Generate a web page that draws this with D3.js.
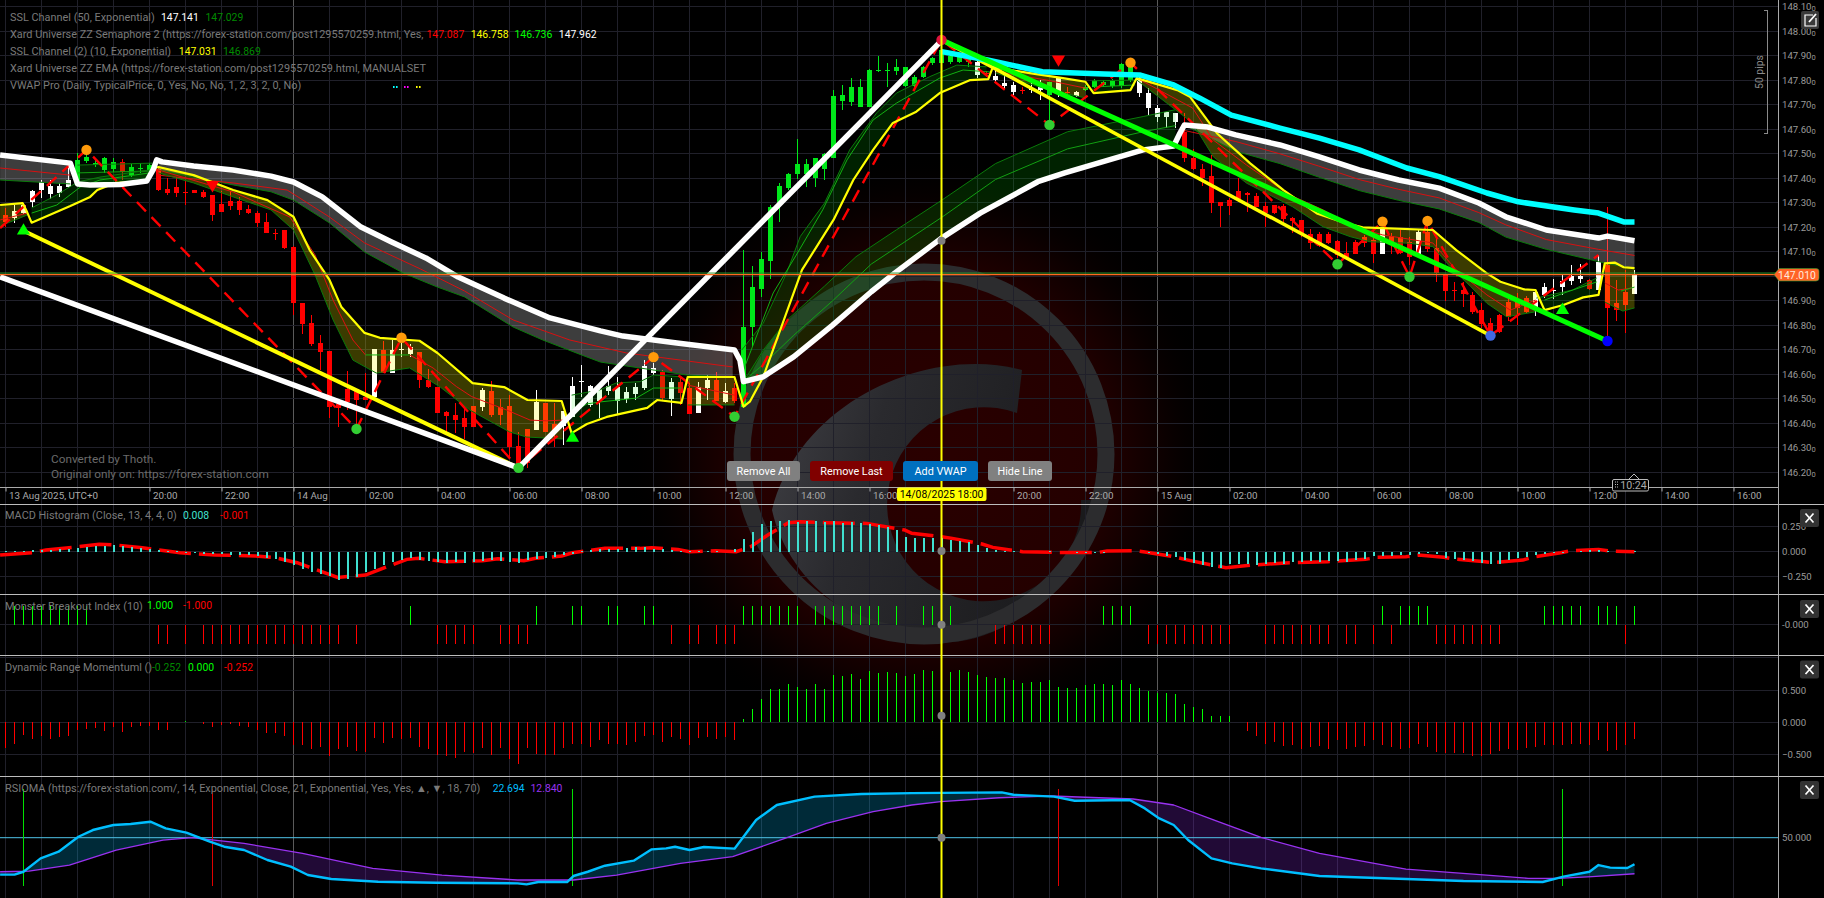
<!DOCTYPE html>
<html><head><meta charset="utf-8">
<script src="https://cdn.jsdelivr.net/npm/d3@7"></script>
<style>html,body{margin:0;padding:0;background:#000;overflow:hidden}svg{display:block}text{font-family:Roboto,"Liberation Sans",sans-serif}</style>
</head><body><svg id="c" width="1824" height="898"></svg>
<script>
// ---------- DATA ----------
const barTickIndex=[0,16,24,32,40,48,56,64,72,80,88,96,104,112,120,128,136,144,152,160,168,176,184,192];
const barTickLabels=["13 Aug 2025, UTC+0","20:00","22:00","14 Aug","02:00","04:00","06:00","08:00","10:00","12:00","14:00","16:00","18:00","20:00","22:00","15 Aug","02:00","04:00","06:00","08:00","10:00","12:00","14:00","16:00"];
const priceTicks=[146.2,146.3,146.4,146.5,146.6,146.7,146.8,146.9,147.0,147.1,147.2,147.3,147.4,147.5,147.6,147.7,147.8,147.9,148.0,148.1];
// open, high, low, close of the 15-minute candles
const ohlc=[
[147.25,147.277,147.20,147.223],[147.236,147.291,147.216,147.268],[147.259,147.30,147.254,147.291],[147.304,147.352,147.284,147.349],[147.352,147.393,147.318,147.386],
[147.334,147.395,147.314,147.368],[147.341,147.382,147.325,147.368],[147.366,147.447,147.359,147.393],[147.386,147.502,147.379,147.474],[147.472,147.499,147.463,147.488],
[147.456,147.474,147.447,147.463],[147.434,147.488,147.42,147.481],[147.436,147.481,147.427,147.468],[147.468,147.477,147.393,147.427],[147.413,147.458,147.406,147.447],
[147.44,147.463,147.42,147.443],[147.434,147.463,147.42,147.454],[147.436,147.444,147.349,147.352],[147.356,147.4,147.331,147.338],[147.366,147.406,147.322,147.341],
[147.344,147.39,147.293,147.342],[147.352,147.352,147.338,147.338],[147.345,147.352,147.318,147.325],[147.331,147.331,147.227,147.25],[147.295,147.35,147.262,147.262],
[147.308,147.35,147.27,147.288],[147.308,147.322,147.25,147.27],[147.274,147.29,147.254,147.258],[147.257,147.268,147.2,147.217],[147.221,147.26,147.175,147.178],
[147.175,147.195,147.148,147.173],[147.189,147.191,147.11,147.114],[147.121,147.123,146.842,146.889],[146.889,146.892,146.764,146.805],[146.809,146.842,146.717,146.723],
[146.726,146.759,146.617,146.691],[146.695,146.696,146.42,146.465],[146.477,146.48,146.386,146.464],[146.542,146.613,146.454,146.488],[146.542,146.542,146.393,146.495],
[146.508,146.606,146.495,146.495],[146.508,146.702,146.508,146.702],[146.699,146.736,146.604,146.604],[146.604,146.74,146.604,146.699],[146.699,146.733,146.672,146.702],
[146.683,146.725,146.67,146.71],[146.69,146.69,146.543,146.577],[146.577,146.621,146.543,146.547],[146.547,146.55,146.441,146.441],[146.448,146.452,146.362,146.43],
[146.434,146.482,146.359,146.414],[146.423,146.461,146.335,146.384],[146.471,146.471,146.384,146.384],[146.466,146.543,146.452,146.534],[146.532,146.573,146.427,146.434],
[146.466,146.498,146.393,146.434],[146.471,146.516,146.257,146.305],[146.308,146.366,146.223,146.23],[146.378,146.378,146.217,146.237],[146.373,146.534,146.373,146.486],
[146.483,146.483,146.364,146.364],[146.396,146.482,146.305,146.36],[146.387,146.452,146.312,146.452],[146.427,146.591,146.427,146.553],[146.571,146.638,146.506,146.574],
[146.475,146.557,146.465,146.553],[146.489,146.55,146.423,146.539],[146.53,146.634,146.516,146.554],[146.491,146.591,146.434,146.55],[146.498,146.55,146.482,146.529],
[146.52,146.563,146.495,146.55],[146.543,146.659,146.536,146.634],[146.604,146.645,146.598,146.627],[146.611,146.618,146.495,146.502],[146.5,146.584,146.43,146.57],
[146.57,146.591,146.475,146.523],[146.543,146.563,146.437,146.437],[146.444,146.57,146.444,146.55],[146.543,146.598,146.495,146.577],[146.577,146.611,146.489,146.489],
[146.485,146.563,146.482,146.53],[146.543,146.563,146.482,146.489],[146.468,147.107,146.461,146.794],[146.794,147.042,146.712,146.957],[146.947,147.1,146.917,147.072],
[147.062,147.291,146.991,147.284],[147.298,147.382,147.223,147.368],[147.361,147.423,147.352,147.417],[147.416,147.559,147.397,147.457],[147.417,147.477,147.366,147.458],
[147.402,147.481,147.363,147.481],[147.44,147.502,147.393,147.50],[147.481,147.76,147.481,147.736],[147.715,147.78,147.678,147.742],[147.712,147.808,147.695,147.771],
[147.689,147.804,147.689,147.771],[147.689,147.845,147.689,147.842],[147.84,147.899,147.835,147.842],[147.84,147.872,147.771,147.842],[147.84,147.885,147.821,147.853],
[147.776,147.855,147.774,147.853],[147.776,147.821,147.774,147.815],[147.815,147.86,147.81,147.855],[147.869,147.895,147.862,147.889],[147.869,147.96,147.86,147.923],
[147.873,147.905,147.865,147.899],[147.873,147.91,147.87,147.899],[147.873,147.896,147.853,147.885],[147.821,147.88,147.81,147.873],[147.829,147.84,147.812,147.826],
[147.801,147.842,147.794,147.817],[147.776,147.821,147.763,147.79],[147.753,147.794,147.74,147.78],[147.76,147.774,147.746,147.758],[147.76,147.787,147.749,147.763],
[147.76,147.801,147.719,147.774],[147.74,147.794,147.638,147.794],[147.746,147.815,147.733,147.808],[147.754,147.774,147.737,147.751],[147.737,147.755,147.73,147.751],
[147.76,147.78,147.755,147.774],[147.774,147.805,147.768,147.798],[147.78,147.80,147.775,147.794],[147.778,147.805,147.77,147.798],[147.778,147.87,147.77,147.866],
[147.801,147.88,147.795,147.858],[147.747,147.82,147.73,147.804],[147.685,147.767,147.658,147.747],[147.651,147.699,147.631,147.685],[147.651,147.669,147.604,147.669],
[147.628,147.667,147.604,147.665],[147.59,147.665,147.467,147.481],[147.482,147.518,147.433,147.438],[147.44,147.458,147.368,147.40],[147.409,147.495,147.259,147.30],
[147.303,147.303,147.202,147.288],[147.311,147.318,147.25,147.288],[147.348,147.40,147.304,147.315],[147.338,147.345,147.263,147.33],[147.327,147.341,147.281,147.284],
[147.287,147.304,147.202,147.26],[147.291,147.291,147.254,147.257],[147.287,147.297,147.223,147.233],[147.236,147.243,147.178,147.226],[147.229,147.229,147.161,147.175],
[147.171,147.195,147.11,147.137],[147.172,147.18,147.12,147.123],[147.172,147.18,147.13,147.134],[147.144,147.15,147.073,147.087],[147.096,147.141,147.073,147.08],
[147.138,147.148,147.09,147.093],[147.161,147.17,147.12,147.134],[147.148,147.2,147.053,147.093],[147.093,147.2,147.093,147.2],[147.164,147.175,147.093,147.137],
[147.161,147.19,147.09,147.096],[147.141,147.161,147.046,147.08],[147.093,147.19,147.09,147.182],[147.182,147.216,147.1,147.11],[147.114,147.155,146.978,147.012],
[147.008,147.008,146.9,146.94],[146.944,146.978,146.9,146.941],[146.946,146.978,146.876,146.926],[146.923,146.937,146.846,146.853],[146.862,146.889,146.791,146.805],
[146.808,146.828,146.76,146.778],[146.842,146.848,146.77,146.774],[146.896,146.91,146.819,146.835],[146.907,146.93,146.80,146.869],[146.91,146.92,146.85,146.855],
[146.869,146.944,146.838,146.937],[146.923,146.974,146.91,146.955],[146.943,146.991,146.906,146.945],[146.957,147.005,146.923,146.982],[146.98,147.046,146.964,147.0],
[146.987,147.05,146.971,147.0],[146.984,146.99,146.945,146.95],[146.946,147.087,146.944,147.059],[147.046,147.281,146.753,146.869],[146.889,146.984,146.819,146.862],
[146.937,147.025,146.77,146.882],[146.927,147.025,146.927,147.005]];
const limeBars=[8,9,10,11,12,14,15,16,82,83,84,85,86,87,88,89,90,91,92,93,94,95,96,97,98,99,100,101,102,103,104,105,106,107,116,120,121,122,123,124,125];
const currentPrice=147.01;

// slow SSL channel: [bar, price] knots
const slowLine=[[-.6,147.495],[7.2,147.462],[8,147.377],[9.4,147.373],[12.7,147.375],[15.7,147.389],[16.4,147.434],[16.8,147.475],[17.4,147.467],[20.9,147.45],[25.3,147.434],[29.5,147.409],[32,147.385],[35.2,147.324],[39.5,147.201],[42.9,147.14],[46.7,147.075],[50.3,146.997],[55.4,146.911],[60.5,146.83],[66.1,146.777],[68.6,146.756],[74.6,146.728],[81,146.699],[81.6,146.658],[82,146.57],[84.2,146.59],[87.6,146.672],[91.9,146.801],[96.2,146.937],[98.8,147.013],[104,147.156],[108.3,147.258],[114.7,147.386],[117.7,147.422],[126.4,147.516],[129.8,147.532],[130.5,147.585],[131,147.618],[133.6,147.609],[136.7,147.577],[141.6,147.536],[145.9,147.488],[150.4,147.434],[154.8,147.393],[159.3,147.36],[163.7,147.299],[166.7,147.243],[171.2,147.189],[177,147.156],[178,147.164],[181,147.145]];
const slowEdgeA=[[-.6,147.393],[7.2,147.377]];
const slowEdgeB=[[8,147.454],[16.3,147.462]];
const slowEdgeC=[[17,147.434],[20.9,147.405],[25.3,147.373],[29.5,147.345],[32,147.311],[36,147.218],[39.9,147.099],[44.2,147.013],[48,146.956],[51,146.916],[56.4,146.793],[59.7,146.74],[64,146.679],[66.1,146.65],[75.7,146.597],[80.8,146.589]];
const slowEdgeD=[[82,146.57],[84.2,146.699],[86.8,146.82],[91,146.96],[94.5,147.08],[99,147.19],[104,147.31],[110,147.46],[118,147.59],[126.4,147.652],[130,147.68]];
const slowEdgeE=[[131,147.618],[136.7,147.51],[141.6,147.46],[145.9,147.405],[150.4,147.35],[154.8,147.31],[159.3,147.275],[163.7,147.22],[166.7,147.16],[171.2,147.11],[177,147.06],[181,147.03]];
const slowMidA=[[-.6,147.442],[7.2,147.413]];
const slowMidB=[[8,147.422],[16.3,147.43]];
const slowMidC=[[17,147.413],[20.9,147.397],[25.3,147.381],[31.3,147.352],[36,147.242],[39.9,147.136],[46.1,147.03],[51,146.94],[56.4,146.822],[62.7,146.74],[69,146.687],[75,146.658],[80.8,146.63]];
const slowMidD=[[82,146.572],[84.2,146.64],[87.6,146.76],[91.9,146.9],[96.2,147.05],[104,147.24],[110,147.395],[118,147.52],[126.4,147.59],[130,147.615]];
const slowMidE=[[131,147.595],[136.7,147.55],[141.6,147.5],[145.9,147.45],[150.4,147.395],[154.8,147.355],[159.3,147.32],[163.7,147.26],[166.7,147.21],[171.2,147.15],[177,147.11],[181,147.085]];

// fast SSL channel
const fastLine=[[-.6,147.291],[1.9,147.299],[2.4,147.262],[2.9,147.219],[7.2,147.287],[9.4,147.324],[10.2,147.352],[12.2,147.381],[15.7,147.386],[16.6,147.442],[17,147.446],[20.9,147.413],[25.3,147.352],[29.1,147.311],[32,147.243],[33.8,147.107],[36,146.985],[37.3,146.876],[39.9,146.769],[41.6,146.749],[46,146.737],[48,146.687],[51.9,146.564],[55.4,146.548],[58,146.495],[61.8,146.491],[62.9,146.36],[64.6,146.397],[66.8,146.426],[71.3,146.463],[72.4,146.495],[75.1,146.483],[75.8,146.589],[81,146.589],[82,146.468],[82.7,146.488],[84.2,146.59],[88.5,147.026],[92,147.23],[94.2,147.393],[96.4,147.516],[98.6,147.626],[101.2,147.672],[103.8,147.748],[107.2,147.801],[109.2,147.805],[109.7,147.854],[113.8,147.829],[117.5,147.809],[120,147.794],[120.9,147.748],[125,147.76],[125.7,147.809],[130.2,147.76],[131.6,147.733],[134.6,147.584],[138.3,147.461],[142,147.352],[145.7,147.257],[149,147.216],[150.8,147.2],[158.6,147.189],[161.2,147.107],[164.6,147.012],[166.1,146.978],[168.7,146.947],[170,146.944],[171,146.862],[173.1,146.883],[175.3,146.914],[177,146.924],[177.7,147.053],[178.8,147.056],[179.8,147.037],[181,147.033]];
const fastEdges=[
 [[-.6,147.205],[2.4,147.25]],
 [[2.9,147.279],[5.7,147.332],[8,147.385],[10.5,147.405],[16,147.434]],
 [[17,147.422],[20.9,147.381],[25.3,147.324],[29.5,147.271],[32,147.189],[32.7,147.136],[34.4,147.005],[36.4,146.822],[38.6,146.658],[41.2,146.605],[44.9,146.626],[48.3,146.548],[51.6,146.454],[56,146.365],[57.9,146.344],[61.9,146.336]],
 [[62.9,146.515],[66,146.536],[67.9,146.565],[70.5,146.57],[72,146.597],[75.1,146.59]],
 [[75.8,146.475],[81,146.475]],
 [[81.8,146.699],[84.2,146.809],[86.8,147.014],[88.3,147.162],[91,147.299],[93.8,147.516],[96.8,147.667],[99,147.748],[102.7,147.815],[105.7,147.862],[109,147.855]],
 [[110,147.83],[116,147.76],[120,147.728]],
 [[120.7,147.798],[125.5,147.801]],
 [[125.7,147.801],[131.9,147.626],[134.2,147.488],[137.9,147.38],[140.1,147.339],[143,147.284],[146.4,147.202],[149.4,147.162],[151.6,147.141],[156,147.135],[158.6,147.121],[160.5,147.039],[162.8,146.958],[164.6,146.89],[166.8,146.835],[170,146.855]],
 [[170.1,146.911],[174.1,146.944],[176.8,146.993]],
 [[177.7,146.895],[179.7,146.858],[181,146.871]]];
const fastBandKinds=["down","up","down","up","down","up","down","up","down","up","down"];
const fastMidsRed=[
 [[-.6,147.23],[2.4,147.258]],
 [[17,147.434],[25.3,147.344],[31.6,147.242],[34.4,147.087],[36.4,146.903],[38.6,146.74],[40,146.679]],
 [[44.9,146.679],[47.5,146.626],[50.1,146.55],[51.8,146.509],[55.7,146.454],[58.3,146.413],[60.1,146.41],[61.9,146.413]],
 [[75.8,146.556],[81,146.515]],
 [[110.1,147.835],[115.7,147.801],[120.1,147.767]],
 [[125.7,147.809],[131.9,147.687],[134.2,147.556],[137.9,147.454],[142.7,147.332],[146.4,147.271],[149.4,147.209],[153,147.169],[158.6,147.136],[161.2,147.026],[164.6,146.924],[167.2,146.862],[170,146.903]],
 [[177.7,146.973],[179.2,146.944],[180.7,146.952]]];
const fastMidsGreen=[
 [[2.9,147.258],[5.7,147.291],[8.3,147.364],[10.5,147.393],[16,147.422]],
 [[40,146.679],[44.9,146.679]],
 [[62.9,146.442],[64.6,146.479],[66,146.487],[70.1,146.503],[72,146.544],[75.1,146.544]],
 [[82,146.618],[85.3,146.932],[88,147.095],[90.8,147.271],[93.5,147.475],[96.4,147.638],[99,147.707],[103.8,147.809],[106.4,147.842],[109.4,147.834]],
 [[121,147.773],[125.5,147.781]],
 [[171,146.903],[173.5,146.936],[176.8,146.977]],
 [[179.5,146.94],[181,146.956]]];
const vwapLine=[[104,147.917],[109.1,147.883],[115.2,147.835],[122.1,147.826],[126,147.822],[129.8,147.781],[132.7,147.727],[136.2,147.658],[141.6,147.605],[146,147.564],[150.4,147.516],[155.7,147.442],[159.3,147.407],[164.6,147.34],[168.1,147.304],[174.3,147.271],[177,147.258],[179.8,147.222],[181,147.222]];

// zigzag and swing lines
const zigzag=[[-.6,147.197],[9,147.516],[39,146.377],[44,146.749],[57,146.218],[72,146.67],[81,146.427],[104,147.965],[116,147.618],[125,147.872],[148,147.049],[153,147.223],[156,146.998],[158,147.226],[165,146.758],[177,147.087]];
const whiteSwing=[[-.6,146.998],[57,146.218],[104,147.962]];
const yellowSwingA=[[2,147.186],[57,146.218]];
const yellowSwingB=[[104,147.965],[165,146.758]];
const limeSwing=[[104,147.965],[178,146.736]];
const orangeDots=[[9,147.516],[44,146.749],[72,146.67],[125,147.872],[153,147.223],[158,147.226]];
const greenDots=[[39,146.377],[57,146.218],[81,146.427],[116,147.618],[148,147.049],[156,146.998]];
const crimsonDots=[[104,147.965]];
const royalDots=[[165,146.758]];
const blueDots=[[178,146.736]];
const upTriangles=[[2,147.186],[63,146.34],[173,146.862]];
const downTriangles=[[23,147.373],[117,147.886]];
const crosshairBar=104;

// MACD histogram
const macdHist=[.005,.01,.01,.015,.02,.015,.025,.03,.035,.05,
.06,.055,.065,.06,.045,.04,.03,.02,.01,.005,
-.01,-.015,-.02,-.02,-.025,-.03,-.03,-.03,-.04,-.06,
-.07,-.1,-.13,-.17,-.2,-.22,-.24,-.28,-.27,-.25,
-.2,-.17,-.13,-.1,-.08,-.06,-.08,-.09,-.1,-.11,
-.1,-.11,-.1,-.09,-.08,-.09,-.1,-.11,-.08,-.07,
-.06,-.05,-.03,-.02,.01,.02,.025,.03,.03,.04,
.045,.05,.03,.025,.015,.01,.005,.005,.01,.005,
0,.03,.13,.2,.27,.3,.3,.31,.29,.3,
.3,.29,.3,.28,.29,.28,.27,.26,.25,.22,
.15,.14,.14,.14,.14,.115,.11,.1,.065,.04,
.02,.01,.005,0,0,0,.005,0,-.005,-.01,
-.01,-.015,-.01,0,0,0,-.005,-.01,-.02,-.04,
-.05,-.08,-.11,-.13,-.15,-.16,-.12,-.12,-.12,-.13,
-.12,-.11,-.12,-.1,-.1,-.09,-.1,-.09,-.09,-.1,
-.08,-.07,-.04,-.04,-.04,-.03,-.03,-.02,-.015,-.02,
-.06,-.07,-.08,-.09,-.11,-.12,-.12,-.08,-.06,-.05,
-.03,-.02,-.015,-.01,0,.01,.015,.015,.01,0,
-.005,.002];
const macdSignal=[[-.6,-.033],[3,-.01],[4.5,.017],[7.5,.043],[10.4,.073],[12.3,.066],[15.2,.04],[16.5,.023],[19.4,-.01],[23.3,-.033],[24.9,-.036],[27.8,-.043],[29.8,-.056],[32.4,-.109],[33.6,-.149],[36.9,-.255],[40,-.232],[41.7,-.172],[44.6,-.076],[45.9,-.066],[48.8,-.099],[53,-.089],[54.7,-.07],[57.6,-.089],[58.9,-.066],[61.8,-.043],[63,-.01],[66.6,.033],[70.5,.033],[71.8,.04],[74.7,.023],[76,0],[78.9,.01],[81.2,0],[82.8,.05],[84.7,.166],[87,.288],[88.3,.298],[91.2,.288],[95.7,.281],[99.9,.215],[100.7,.182],[104,.149],[105.2,.132],[108.5,.076],[109.7,.043],[113,0],[116.9,-.007],[121.4,-.007],[122.4,.007],[125.6,.01],[126.6,-.003],[129.8,-.05],[131,-.076],[134,-.132],[135.6,-.159],[138.5,-.132],[142.7,-.109],[146.9,-.099],[151.1,-.076],[152.4,-.056],[155.6,-.05],[157,-.033],[159.8,-.056],[161.1,-.073],[164.4,-.099],[165.3,-.109],[168.6,-.083],[169.9,-.05],[172.8,-.01],[174,.01],[177,.023],[178.3,.007],[181,-.001]];

// Monster Breakout Index: bars that are +1 and bars that are -1
const breakoutUp=[1,2,3,4,5,6,7,8,9,45,59,63,64,67,68,71,72,82,83,84,85,86,87,88,90,91,92,93,94,95,96,97,99,102,103,104,105,122,123,124,125,153,155,156,157,158,171,172,173,174,175,177,178,179,181];
const breakoutDown=[17,18,20,22,23,24,25,26,27,28,29,30,31,32,33,34,35,36,37,39,48,49,50,51,52,55,56,57,58,74,76,77,79,80,81,110,111,112,113,114,115,116,127,128,129,130,131,132,133,134,135,136,140,141,142,143,144,145,146,147,149,150,152,154,159,160,161,162,163,164,165,166,180];

// Dynamic Range Momentum
const drm=[-.40,-.34,-.20,-.26,-.22,-.26,-.23,-.21,-.12,-.10,
-.09,-.13,-.07,-.15,-.08,-.06,-.05,-.12,-.12,.01,
.015,0,-.03,-.08,-.04,-.03,-.05,-.08,-.12,-.16,
-.16,-.22,-.35,-.35,-.42,-.38,-.53,-.42,-.38,-.44,
-.46,-.25,-.32,-.25,-.26,-.25,-.38,-.41,-.51,-.52,
-.55,-.46,-.47,-.40,-.50,-.40,-.57,-.64,-.40,-.49,
-.50,-.50,-.40,-.33,-.34,-.38,-.27,-.34,-.34,-.36,
-.30,-.21,-.20,-.31,-.23,-.26,-.35,-.25,-.23,-.26,
-.23,-.27,.05,.20,.36,.51,.51,.60,.55,.51,
.59,.51,.73,.72,.75,.67,.80,.77,.78,.77,
.72,.75,.81,.80,.79,.78,.81,.78,.74,.71,
.69,.69,.66,.61,.62,.62,.66,.55,.54,.53,
.58,.60,.60,.58,.66,.60,.54,.49,.46,.46,
.44,.28,.23,.20,.10,.10,.10,0,-.13,-.21,
-.34,-.30,-.37,-.35,-.41,-.38,-.37,-.41,-.28,-.41,
-.38,-.37,-.27,-.36,-.39,-.41,-.40,-.33,-.39,-.46,
-.48,-.47,-.47,-.52,-.53,-.49,-.45,-.42,-.43,-.40,
-.39,-.35,-.36,-.35,-.34,-.33,-.36,-.27,-.44,-.43,
-.35,-.26];

// RSIOMA
const rsiFast=[[-.6,11.9],[1,11.9],[2,14.9],[3.9,28.7],[5.9,35.6],[8.1,51],[9.7,57.9],[12,63.1],[13.9,64.1],[16.1,66.5],[17.8,59.6],[20.1,55.2],[22.7,45.9],[24.3,40.7],[26.5,37.3],[29.1,27],[31.7,20.1],[33.6,11.5],[36.2,7.4],[41.4,4.6],[47.9,3.6],[56.9,2.9],[57.9,1.9],[59.2,4.3],[62.4,4.3],[63.1,10.5],[64.7,14.9],[66.6,21.1],[69.8,26.3],[71.8,38],[73.4,39],[74.4,40.7],[76,37.3],[77.6,40.4],[81,38.7],[83.4,68.2],[85.7,83.7],[89.9,92.3],[95.1,95],[100.7,96],[110.7,96.7],[112,94.3],[116.5,92.3],[118.8,88.1],[124.9,88.8],[126.6,80.2],[128.2,69.9],[129.8,63.1],[131.4,47.6],[134,28.7],[136.3,23.5],[139.5,18.4],[146,10.5],[155.6,7.4],[162,5.3],[170.8,4.3],[173.1,9.8],[176,14.9],[177,21.8],[178.3,19.1],[180.2,18.7],[181,22.694]];
const rsiSlow=[[-.6,14.9],[2.6,15.6],[7.1,21.8],[12.3,37.3],[17.5,47.6],[20.7,50],[26.5,44.2],[33,33.8],[40.8,18.4],[48.5,11.5],[56.9,6.4],[63.1,6.4],[67.9,11.5],[75,23.5],[80.8,30.4],[86.6,49.3],[91.2,64.8],[96.4,76.8],[100.7,83.7],[103.9,87.1],[110.4,91.2],[116.2,93],[125.3,89.9],[129.8,83.7],[134.3,68.2],[139.5,50.3],[146,33.8],[155.6,17.7],[165.3,10.8],[169.2,8.1],[172.5,8.1],[176.3,9.8],[181,12.84]];
const rsiBuy=[2,63,173];
const rsiSell=[23,117];
const macdTicks=[-.25,0,.25];
const breakoutTicks=[0];
const drmTicks=[-.5,0,.5];
const drmGridExtra=[1];

// ---------- SCALES ----------
const W=1824,H=898,axisX=1778;
const svg=d3.select("#c");
const x=d3.scaleLinear().domain([0,181]).range([5.5,1634.5]);
const yP=d3.scaleLinear().domain([147,148]).range([276.3,31.3]);
const yM=d3.scaleLinear().domain([0,.25]).range([551.7,526.5]);
const yB=d3.scaleLinear().domain([-1,1]).range([643.7,606]);
const yD=d3.scaleLinear().domain([0,.5]).range([722.3,690.1]);
const yR=d3.scaleLinear().domain([50,100]).range([837.7,789.2]);

const defs=svg.append("defs");
const rg=defs.append("radialGradient").attr("id","glow").attr("gradientUnits","userSpaceOnUse").attr("cx",924).attr("cy",454).attr("r",300);
[[0,"#2a0000",1],[.58,"#240000",1],[.78,"#0e0000",1],[1,"#000",0]].forEach(s=>rg.append("stop").attr("offset",s[0]).attr("stop-color",s[1]).attr("stop-opacity",s[2]));
const lg=defs.append("linearGradient").attr("id","swoosh").attr("x1",0).attr("y1",0).attr("x2",1).attr("y2",.25);
[[0,"#404045"],[.35,"#2a2a2e"],[1,"#1a1a1c"]].forEach(s=>lg.append("stop").attr("offset",s[0]).attr("stop-color",s[1]));

svg.append("rect").attr("width",W).attr("height",H).attr("fill","#000");
// watermark logo (background picture)
const logo=svg.append("g");
logo.append("circle").attr("cx",924).attr("cy",454).attr("r",300).attr("fill","url(#glow)");
logo.append("path").attr("d","M1022 370 C930 345,800 400,772 510 C790 590,870 640,950 642 C1010 640,1080 580,1107 500 L1081 500 A97 97 0 1 1 1017 413 Z").attr("fill","url(#swoosh)");
logo.append("circle").attr("cx",924).attr("cy",454).attr("r",182).attr("fill","none").attr("stroke","#2c2c2e").attr("stroke-width",17);

// ---------- GRID ----------
const grid=svg.append("g").attr("shape-rendering","crispEdges");
d3.range(0,49).forEach(k=>{const gx=5.5+36*k; if(gx<axisX){const major=(k*4===32||k*4===128);
 grid.append("line").attr("x1",gx).attr("x2",gx).attr("y1",0).attr("y2",H).attr("stroke",major?"#5a5a5a":"#20202a");}});
function hline(y,c){grid.append("line").attr("x1",0).attr("x2",axisX).attr("y1",y).attr("y2",y).attr("stroke",c||"#20202a");}
priceTicks.forEach(p=>hline(yP(p)));
macdTicks.forEach(p=>hline(yM(p)));
breakoutTicks.forEach(p=>hline(yB(p)));
drmTicks.concat(drmGridExtra).forEach(p=>hline(yD(p)));

// ---------- CANDLES ----------
const limeSet=new Set(limeBars);
const candleColor=(d,i)=>d[3]<d[0]?"#ff0000":(limeSet.has(i)?"#00e81a":"#ffffff");
const cg=svg.append("g").attr("shape-rendering","crispEdges");
cg.selectAll("line").data(ohlc).join("line").attr("x1",(d,i)=>x(i)).attr("x2",(d,i)=>x(i)).attr("y1",d=>yP(d[1])).attr("y2",d=>yP(d[2])).attr("stroke",candleColor);
cg.selectAll("rect").data(ohlc).join("rect").attr("x",(d,i)=>x(i)-2.5).attr("width",5)
 .attr("y",d=>yP(Math.max(d[0],d[3]))).attr("height",d=>Math.max(1,Math.abs(yP(d[0])-yP(d[3])))).attr("fill",candleColor);

// ---------- HELPERS ----------
const bis=d3.bisector(d=>d[0]).left;
function at(s,i){const k=bis(s,i);if(k<=0)return s[0][1];if(k>=s.length)return s[s.length-1][1];const a=s[k-1],b=s[k];return a[1]+(b[1]-a[1])*(i-a[0])/(b[0]-a[0]);}
function bandRows(a,b,from,to){const xs=Array.from(new Set([from,to,...a.map(d=>d[0]),...b.map(d=>d[0])])).filter(v=>v>=from&&v<=to).sort((m,n)=>m-n);return xs.map(v=>[v,at(a,v),at(b,v)]);}
const pl=y=>d3.line().x(d=>x(d[0])).y(d=>y(d[1]));
function band(a,b,fill){const from=b[0][0],to=b[b.length-1][0];
 svg.append("path").datum(bandRows(a,b,from,to)).attr("d",d3.area().x(d=>x(d[0])).y0(d=>yP(d[1])).y1(d=>yP(d[2]))).attr("fill",fill);}
function stroke(s,y,c,w,dash){return svg.append("path").datum(s).attr("d",pl(y)).attr("fill","none").attr("stroke",c).attr("stroke-width",w).attr("stroke-linejoin","round").attr("stroke-dasharray",dash||null);}

// slow channel fills and lines
const greyFill="rgba(255,255,255,.24)",greenFill="rgba(0,200,0,.17)",oliveFill="rgba(255,255,0,.23)",darkGreen="rgba(0,255,0,.13)";
[slowEdgeA,slowEdgeC,slowEdgeE].forEach(e=>band(slowLine,e,greyFill));
[slowEdgeB,slowEdgeD].forEach(e=>band(slowLine,e,greenFill));
// fast channel fills
fastEdges.forEach((e,k)=>band(fastLine,e,fastBandKinds[k]==="down"?oliveFill:darkGreen));

[slowEdgeA,slowEdgeB,slowEdgeC,slowEdgeD,slowEdgeE].forEach(e=>stroke(e,yP,"#0a7a0a",1));
[slowMidA,slowMidC,slowMidE].forEach(e=>stroke(e,yP,"#d81010",1));
[slowMidB,slowMidD].forEach(e=>stroke(e,yP,"#12a012",1));
fastEdges.forEach(e=>stroke(e,yP,"#0a7a0a",1));
fastMidsRed.forEach(e=>stroke(e,yP,"#e01010",1));
fastMidsGreen.forEach(e=>stroke(e,yP,"#12b012",1));

// zigzag under swings
stroke(zigzag,yP,"#ff0000",2.4,"13,8");
stroke(fastLine,yP,"#ffff00",2.2);
stroke(slowLine,yP,"#ffffff",5.5);
stroke(yellowSwingA,yP,"#ffff00",4);
stroke(yellowSwingB,yP,"#ffff00",3.5);
stroke(whiteSwing,yP,"#ffffff",5.5);
stroke(vwapLine,yP,"#00ffff",5.5);
stroke(limeSwing,yP,"#00ff00",5);

// price line
svg.append("line").attr("x1",0).attr("x2",axisX).attr("y1",yP(currentPrice)-.8).attr("y2",yP(currentPrice)-.8).attr("stroke","#2f9a2f").attr("stroke-width",1);
svg.append("line").attr("x1",0).attr("x2",axisX).attr("y1",yP(currentPrice)+.7).attr("y2",yP(currentPrice)+.7).attr("stroke","#ff6a20").attr("stroke-width",1.2);

// markers
function dots(s,c,r){svg.append("g").selectAll("circle").data(s).join("circle").attr("cx",d=>x(d[0])).attr("cy",d=>yP(d[1])).attr("r",r||5.2).attr("fill",c);}
dots(orangeDots,"#ff9a0a");dots(greenDots,"#32cd32");dots(crimsonDots,"#dc143c");dots(royalDots,"#4169e1");dots(blueDots,"#0000ff");
const tri=d3.symbol().type(d3.symbolTriangle).size(75);
svg.append("g").selectAll("path").data(upTriangles).join("path").attr("d",tri).attr("fill","#00ff00").attr("transform",d=>`translate(${x(d[0])},${yP(d[1])})`);
svg.append("g").selectAll("path").data(downTriangles).join("path").attr("d",tri).attr("fill","#ff0000").attr("transform",d=>`translate(${x(d[0])},${yP(d[1])}) rotate(180)`);

// ---------- SUB PANES ----------
const sub=svg.append("g").attr("shape-rendering","crispEdges");
sub.selectAll(".mh").data(macdHist).join("rect").attr("class","mh").attr("x",(d,i)=>x(i)-1).attr("width",2)
 .attr("y",d=>Math.min(yM(d),yM(0))).attr("height",d=>Math.max(.5,Math.abs(yM(d)-yM(0)))).attr("fill","#40e0d0");
stroke(macdSignal,yM,"#ff0000",3.5,"32,8").attr("stroke-linejoin","miter");
const vbar=(g,data,xf,y0,y1,col)=>g.append("g").selectAll("line").data(data).join("line").attr("x1",xf).attr("x2",xf).attr("y1",y0).attr("y2",y1).attr("stroke",col);
vbar(sub,breakoutUp,d=>x(d),yB(0),yB(1),"#00ff00");
vbar(sub,breakoutDown,d=>x(d),yB(0),yB(-1),"#ff0000");
sub.append("g").selectAll("line").data(drm).join("line").attr("x1",(d,i)=>x(i)).attr("x2",(d,i)=>x(i)).attr("y1",yD(0)).attr("y2",d=>yD(d)).attr("stroke",d=>d>=0?"#00ff00":"#ff0000");

// RSIOMA
const rows=bandRows(rsiFast,rsiSlow,-.6,181).map(r=>({i:r[0],f:r[1],s:r[2]}));
svg.append("path").datum(rows).attr("d",d3.area().x(d=>x(d.i)).y0(d=>yR(d.s)).y1(d=>yR(Math.max(d.f,d.s)))).attr("fill","rgba(0,191,255,.22)");
svg.append("path").datum(rows).attr("d",d3.area().x(d=>x(d.i)).y0(d=>yR(d.s)).y1(d=>yR(Math.min(d.f,d.s)))).attr("fill","rgba(138,43,226,.24)");
hline(yR(50),"#4fc3e8");
svg.node().appendChild(grid.selectAll("line").nodes().pop());
vbar(sub,rsiBuy,d=>x(d),yR(100),yR(0),"#00e000");
vbar(sub,rsiSell,d=>x(d),yR(100),yR(0),"#e00000");
svg.node().appendChild(sub.node());
stroke(rsiSlow,yR,"#9932f0",1.3);
stroke(rsiFast,yR,"#00bfff",2.4);

// ---------- AXES ----------
const axG=svg.append("g");
const xAxis=d3.axisBottom(x).tickValues(barTickIndex).tickSize(4).tickFormat((d,i)=>barTickLabels[i]);
const xg=axG.append("g").attr("transform","translate(0,487.5)").call(xAxis);
xg.select(".domain").remove();
xg.selectAll(".tick line").attr("stroke","#aaa");
xg.selectAll(".tick text").attr("x",3).attr("y",4.5).attr("text-anchor","start").attr("dy",".71em").attr("fill","#aaa").style("font-size","9.8px").style("font-family","Roboto");
function yAxisPane(scale,ticks,fmt){const g=axG.append("g").attr("transform",`translate(${axisX},0)`).call(d3.axisRight(scale).tickValues(ticks).tickSize(0).tickPadding(4).tickFormat(fmt));
 g.select(".domain").remove();g.selectAll("text").attr("fill","#9a9a9a").style("font-size","9.6px").style("font-family","Roboto");return g;}
const pg=yAxisPane(yP,priceTicks,d=>d3.format(".2f")(d));
pg.selectAll("text").append("tspan").text("0").style("font-size","7.5px").attr("dy","1");
yAxisPane(yM,macdTicks,d=>d3.format(".3f")(d));
yAxisPane(yB,breakoutTicks,d=>"-"+d3.format(".3f")(d));
yAxisPane(yD,drmTicks,d=>d3.format(".3f")(d));
yAxisPane(yR,[50],d=>d3.format(".3f")(d));

// frame lines
const frame=svg.append("g").attr("shape-rendering","crispEdges");
frame.append("line").attr("x1",axisX).attr("x2",axisX).attr("y1",0).attr("y2",H).attr("stroke","#aaa");
frame.append("line").attr("x1",0).attr("x2",axisX).attr("y1",487.5).attr("y2",487.5).attr("stroke","#aaa");
[504.5,594.5,655.5,776.5].forEach(y=>frame.append("line").attr("x1",0).attr("x2",W).attr("y1",y).attr("y2",y).attr("stroke","#bdbdbd"));

// crosshair
svg.append("line").attr("x1",x(crosshairBar)).attr("x2",x(crosshairBar)).attr("y1",0).attr("y2",H).attr("stroke","#ffff00").attr("stroke-width",2);
svg.append("g").selectAll("circle").data([[yP,147.145],[yM,.008],[yB,0],[yD,.1],[yR,50]]).join("circle").attr("cx",x(crosshairBar)).attr("cy",d=>d[0](d[1])).attr("r",4).attr("fill","#808080");
const ct=svg.append("g");
ct.append("rect").attr("x",897).attr("y",487.5).attr("width",89.5).attr("height",13.5).attr("rx",2).attr("fill","#ffff00");
ct.append("text").attr("x",941.5).attr("y",498).attr("text-anchor","middle").attr("fill","#000").style("font-size","10.4px").text("14/08/2025 18:00");

// ---------- LEGENDS ----------
function label(tx,ty,t,c,s){return svg.append("text").attr("x",tx).attr("y",ty).attr("fill",c||"#7a7a7a").style("font-size",(s||10.4)+"px").text(t);}
const T=10.9;
label(10,21,"SSL Channel (50, Exponential)",null,T);label(161,20.5,"147.141","#fff");label(205.5,20.5,"147.029","#008a00");
label(10,38,"Xard Universe ZZ Semaphore 2 (https://forex-station.com/post1295570259.html, Yes,",null,T);
label(426.5,37.5,"147.087","#ff0000");label(470.7,37.5,"146.758","#ffff00");label(514.5,37.5,"146.736","#00ff00");label(558.8,37.5,"147.962","#fff");
label(10,55,"SSL Channel (2) (10, Exponential)",null,T);label(178.8,54.5,"147.031","#ffff00");label(223,54.5,"146.869","#008a00");
label(10,72,"Xard Universe ZZ EMA (https://forex-station.com/post1295570259.html, MANUALSET",null,T);
label(10,89,"VWAP Pro (Daily, TypicalPrice, 0, Yes, No, No, 1, 2, 3, 2, 0, No)",null,T);
[[393,"#00ffff"],[396,"#00ffff"],[404,"#ff00ff"],[407,"#ff00ff"],[416,"#ffff00"],[419,"#ffff00"]].forEach(d=>svg.append("rect").attr("x",d[0]).attr("y",86).attr("width",1.6).attr("height",2).attr("fill",d[1]));
label(5,519,"MACD Histogram (Close, 13, 4, 4, 0)",null,T);label(183,519,"0.008","#40e0d0");label(220,519,"-0.001","#ff0000");
label(5,610,"Monster Breakout Index (10)",null,T);label(147,609,"1.000","#00ff00");label(183,609,"-1.000","#ff0000");
label(5,671,"Dynamic Range Momentuml ()",null,T);label(152,670.5,"-0.252","#008a00");label(188,670.5,"0.000","#00ff00");label(224,670.5,"-0.252","#ff0000");
label(5,792,"RSIOMA (https://forex-station.com/, 14, Exponential, Close, 21, Exponential, Yes, Yes, ▲, ▼, 18, 70)",null,T);label(492.7,791.5,"22.694","#00bfff");label(530.5,791.5,"12.840","#9932f0");
label(51,463,"Converted by Thoth.","#6a6a6a",11.8);label(51,478,"Original only on: https://forex-station.com","#6a6a6a",11.8);

// 50 pips ruler
const rl=svg.append("g").attr("stroke","#8a8a8a").attr("shape-rendering","crispEdges");
rl.append("line").attr("x1",1767.5).attr("x2",1767.5).attr("y1",10).attr("y2",133);
rl.append("line").attr("x1",1764).attr("x2",1767.5).attr("y1",10).attr("y2",10);
rl.append("line").attr("x1",1764).attr("x2",1767.5).attr("y1",133).attr("y2",133);
svg.append("text").attr("transform","translate(1763,72) rotate(-90)").attr("text-anchor","middle").attr("fill","#8a8a8a").style("font-size","10.4px").text("50 pips");

// price tag
const tag=svg.append("g");
tag.append("path").attr("d","M1774 274.5 L1779 268.5 H1816 Q1819 268.5 1819 271 V278 Q1819 281 1816 281 H1779 Z").attr("fill","#ff6426").attr("stroke","#2f9a2f").attr("stroke-width",.6);
tag.append("text").attr("x",1797).attr("y",278.5).attr("text-anchor","middle").attr("fill","#ffe8dc").style("font-size","10.4px").text("147.010");

// candle timer
const tm=svg.append("g");
tm.append("path").attr("d","M1629 479 L1634 474 L1639 479").attr("fill","none").attr("stroke","#bbb");
tm.append("rect").attr("x",1612.5).attr("y",479.5).attr("width",36).attr("height",11.5).attr("rx",1.5).attr("fill","#000").attr("stroke","#bbb");
tm.append("text").attr("x",1633.5).attr("y",489.3).attr("text-anchor","middle").attr("fill","#aaa").style("font-size","10.6px").text("10:24");
[481.5,484,486.5].forEach(y=>[1615,1617].forEach(tx=>tm.append("rect").attr("x",tx).attr("y",y).attr("width",1).attr("height",1).attr("fill","#bbb")));

// buttons
const btnLabels=["Remove All","Remove Last","Add VWAP","Hide Line"];
const btnBox=[[727,73],[810,83],[903,75],[988,64]];
const btnFill=["#808080","#800000","#0070c0","#808080"];
btnLabels.forEach((t,k)=>{const g=svg.append("g");
 g.append("rect").attr("x",btnBox[k][0]).attr("y",461).attr("width",btnBox[k][1]).attr("height",20).attr("rx",3).attr("fill",btnFill[k]);
 g.append("text").attr("x",btnBox[k][0]+btnBox[k][1]/2).attr("y",475).attr("text-anchor","middle").attr("fill","#fff").style("font-size","10.8px").text(t);});

// corner buttons
[518,609,669.5,790].forEach(cy=>{const g=svg.append("g");
 g.append("rect").attr("x",1800).attr("y",cy-9).attr("width",19).attr("height",18).attr("rx",2).attr("fill","#333");
 g.append("path").attr("d",`M${1805.5} ${cy-4.5} L${1813.5} ${cy+4.5} M${1813.5} ${cy-4.5} L${1805.5} ${cy+4.5}`).attr("stroke","#fff").attr("stroke-width",1.7);});
const eg=svg.append("g");
eg.append("rect").attr("x",1801).attr("y",11).attr("width",18).attr("height",18).attr("rx",2).attr("fill","#3a3a3a");
eg.append("path").attr("d","M1813 15 H1805 V26 H1816 V18").attr("fill","none").attr("stroke","#fff").attr("stroke-width",1.2);
eg.append("path").attr("d","M1809 22 L1816 14").attr("stroke","#fff").attr("stroke-width",1.8);
</script></body></html>
